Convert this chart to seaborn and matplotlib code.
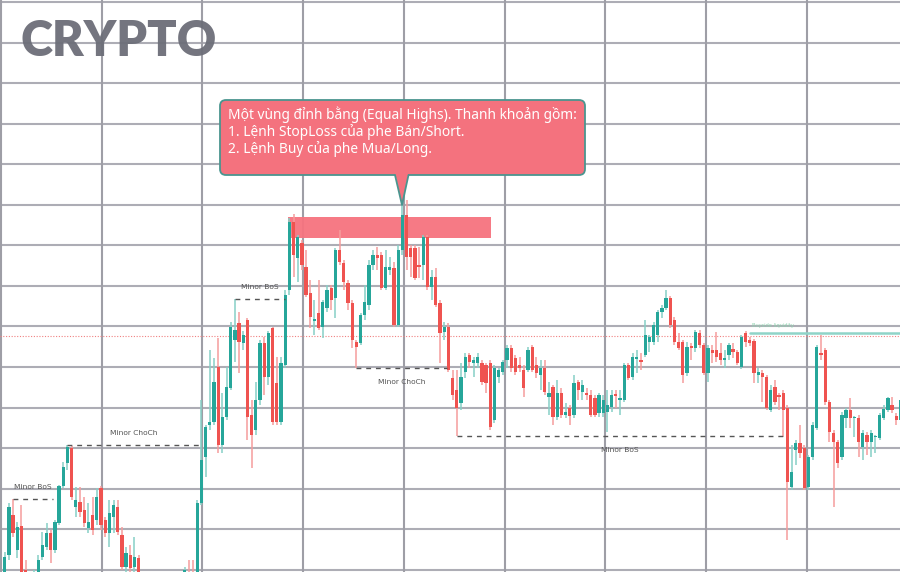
import numpy as np
import pandas as pd
import matplotlib
matplotlib.use("Agg")
import matplotlib.pyplot as plt
import seaborn as sns
from matplotlib.patches import FancyBboxPatch, Polygon, Rectangle

# ---------------- data (price units) ----------------
open_ = [-3, 17, 57, 22, 46, 2, -8, -18, -6, 15,
         25, 39, 22, 49, 86, 109, 124, 65, 70, 62,
         44, 57, 52, 84, 52, 39, 55, 65, 37, 5,
         17, 5, 14, -6, -18, -28, -23, -38, -33, -43,
         -28, -23, -18, -8, 0, -3, -8, 69, 115, 147,
         150, 205, 127, 155, 184, 232, 249, 229, 252, 157,
         142, 172, 229, 195, 244, 189, 150, 207, 282, 350,
         314, 329, 305, 279, 251, 259, 245, 264, 284, 274,
         322, 309, 289, 269, 230, 229, 257, 267, 307, 317,
         317, 284, 302, 304, 247, 322, 357, 324, 324, 307,
         307, 335, 285, 295, 269, 240, 245, 194, 182, 169,
         200, 217, 209, 209, 209, 207, 209, 152, 195, 200,
         212, 224, 214, 207, 202, 202, 225, 207, 197, 204,
         175, 185, 155, 179, 157, 164, 157, 190, 180, 179,
         177, 174, 159, 159, 160, 165, 178, 172, 172, 207,
         195, 213, 212, 217, 230, 230, 237, 260, 264, 274,
         252, 230, 230, 199, 226, 224, 239, 227, 199, 222,
         222, 219, 212, 217, 223, 220, 205, 239, 232, 231,
         197, 199, 195, 162, 185, 177, 179, 164, 85, 122,
         129, 124, 85, 115, 144, 219, 222, 170, 139, 130,
         115, 154, 162, 154, 154, 125, 137, 130, 135, 134,
         154, 162, 167, 156, 152]
high_ = [20, 69, 73, 50, 67, 12, -3, 2, 17, 40,
         49, 42, 52, 87, 110, 127, 126, 85, 85, 75,
         69, 75, 84, 86, 55, 72, 72, 72, 45, 25,
         27, 35, 17, -2, -13, -18, -20, -28, -28, -24,
         -13, -13, -6, 5, 12, 12, 72, 172, 147, 222,
         214, 234, 179, 205, 250, 273, 260, 241, 254, 172,
         190, 232, 235, 241, 245, 215, 215, 282, 354, 358,
         337, 332, 322, 292, 272, 292, 272, 287, 287, 324,
         342, 312, 292, 272, 232, 259, 287, 312, 322, 325,
         320, 322, 315, 310, 327, 374, 372, 327, 327, 325,
         337, 337, 302, 304, 272, 250, 249, 202, 202, 209,
         219, 219, 215, 219, 212, 209, 212, 207, 204, 212,
         227, 227, 217, 215, 207, 225, 227, 215, 212, 212,
         190, 187, 192, 184, 169, 167, 197, 192, 192, 184,
         182, 177, 179, 177, 182, 182, 182, 182, 209, 209,
         219, 222, 219, 252, 237, 250, 262, 267, 282, 276,
         255, 239, 232, 230, 229, 242, 242, 229, 227, 227,
         240, 229, 222, 229, 229, 222, 237, 241, 235, 233,
         204, 202, 197, 187, 192, 179, 182, 167, 127, 132,
         147, 127, 117, 150, 227, 237, 224, 172, 142, 132,
         160, 164, 174, 156, 157, 142, 140, 142, 137, 159,
         167, 175, 175, 159, 177]
low_ = [-8, 12, 35, 14, -8, -18, -28, -23, -10, 12,
        22, 9, 19, 47, 84, 102, 72, 55, 55, 45,
        39, 37, 47, 42, 35, 25, 39, 37, 2, 0,
        0, 0, -13, -23, -34, -38, -43, -48, -50, -48,
        -33, -28, -26, -13, -13, -18, -13, 67, 95, 142,
        147, 119, 119, 152, 182, 210, 199, 222, 132, 104,
        137, 167, 177, 187, 147, 147, 147, 204, 277, 295,
        290, 302, 275, 244, 237, 242, 234, 260, 262, 254,
        307, 282, 262, 224, 204, 227, 252, 262, 302, 302,
        282, 282, 297, 245, 245, 317, 302, 295, 292, 294,
        292, 282, 272, 265, 209, 232, 200, 172, 136, 162,
        194, 204, 195, 204, 187, 179, 142, 149, 189, 197,
        204, 200, 197, 200, 175, 200, 200, 194, 182, 177,
        157, 147, 152, 154, 154, 147, 154, 172, 172, 172,
        155, 155, 155, 155, 140, 160, 164, 157, 170, 192,
        192, 199, 202, 215, 220, 227, 230, 254, 262, 244,
        227, 222, 189, 196, 212, 220, 224, 197, 190, 209,
        210, 207, 204, 212, 214, 207, 203, 225, 226, 189,
        189, 170, 162, 160, 167, 162, 135, 32, 82, 107,
        114, 82, 82, 112, 142, 212, 167, 130, 65, 104,
        112, 144, 144, 135, 115, 112, 117, 115, 119, 132,
        152, 160, 159, 147, 147]
close_ = [15, 65, 39, 45, -3, -13, -18, -3, 12, 27,
          39, 22, 50, 86, 105, 125, 75, 72, 60, 49,
          50, 42, 75, 47, 39, 59, 67, 40, 5, 19,
          4, 15, -6, -18, -28, -23, -38, -33, -43, -28,
          -23, -18, -13, 2, -8, -13, 69, 112, 145, 150,
          190, 127, 155, 185, 245, 242, 230, 237, 155, 137,
          172, 229, 195, 239, 150, 150, 209, 277, 350, 317,
          335, 307, 277, 255, 253, 244, 270, 282, 272, 322,
          310, 290, 269, 232, 225, 257, 270, 307, 317, 314,
          284, 305, 305, 247, 322, 357, 315, 315, 294, 305,
          335, 285, 295, 267, 239, 245, 202, 177, 164, 195,
          215, 210, 212, 215, 190, 189, 145, 204, 202, 210,
          224, 204, 200, 204, 184, 222, 202, 199, 204, 180,
          179, 155, 179, 157, 160, 156, 189, 182, 187, 177,
          157, 157, 177, 172, 167, 177, 176, 174, 207, 194,
          215, 215, 210, 237, 235, 247, 260, 264, 274, 247,
          230, 224, 197, 225, 224, 240, 227, 199, 224, 219,
          215, 212, 214, 227, 220, 209, 235, 230, 229, 199,
          200, 195, 164, 182, 170, 175, 162, 90, 100, 129,
          119, 84, 115, 147, 225, 217, 170, 140, 130, 109,
          157, 162, 154, 155, 130, 139, 130, 139, 136, 157,
          163, 174, 162, 152, 172]

# market-structure marks: label, start bar, end bar, price level, label side
struct_labels = ["Minor BoS", "Minor ChoCh", "Minor BoS", "Minor ChoCh", "Minor BoS"]
struct_start = [2, 15, 55, 84, 108]
struct_end = [11.5, 46.7, 67, 105.7, 186]
struct_level = [73, 127, 273, 204, 136]
struct_side = ["above", "above", "above", "below", "below"]

liquidity_label = "Buyside liquidity"
liquidity_start = 178.0
liquidity_level = 239
last_price = 236

zone_start, zone_end = 67.7, 116.2
zone_low, zone_high = 334, 355

callout_text = ("Một vùng đỉnh bằng (Equal Highs). Thanh khoản gồm:\n"
                "1. Lệnh StopLoss của phe Bán/Short.\n"
                "2. Lệnh Buy của phe Mua/Long.")
watermark = "CRYPTO"

# ---------------- styling ----------------
UP, DOWN = "#26a69a", "#ef5350"
UP_WICK, DOWN_WICK = "#86d0c6", "#f59c9c"
ZONE = "#f6737f"

sns.set_theme(style="white")
plt.rcParams["font.family"] = ["DejaVu Sans"]

df = pd.DataFrame({"open": open_, "high": high_, "low": low_, "close": close_})
df["bar"] = np.arange(len(df))
df["up"] = df["close"] >= df["open"]

W, H = 900, 572
fig = plt.figure(figsize=(W / 100, H / 100), dpi=100)
fig.patch.set_facecolor("white")

# grid + watermark layer (pixel space)
gax = fig.add_axes([0, 0, 1, 1], zorder=0)
gax.set_xlim(0, W)
gax.set_ylim(H, 0)
gax.axis("off")
for k in range(15):
    gax.axhline(2 + 40.55 * k, color="#adadb5", lw=1.5)
for k in range(9):
    gax.axvline(0.8 + 100.75 * k, color="#9e9ea6", lw=1.5)
gax.add_patch(Rectangle((218, 38), 72, 9, color="white", alpha=0.75, lw=0))
gax.text(21, 41, watermark, fontsize=35, fontweight="heavy", family=["Lato", "DejaVu Sans"],
         color="#6c6e78", alpha=0.95, ha="left", va="center")

# price layer
ax = fig.add_axes([0, 0, 1, 1], zorder=1)
ax.patch.set_alpha(0)
ax.set_xlim(-4.7 / 4.186, (W - 4.7) / 4.186)
ax.set_ylim(0, H)
ax.axis("off")

ax.add_patch(Rectangle((zone_start, zone_low), zone_end - zone_start, zone_high - zone_low,
                       color=ZONE, alpha=0.95, lw=0, zorder=1))

ax.axhline(last_price, color="#f08080", lw=0.8, ls=(0, (1, 1.5)), zorder=1.5)

wick_colors = [UP_WICK if u else DOWN_WICK for u in df["up"]]
body_colors = [UP if u else DOWN for u in df["up"]]
ax.vlines(df["bar"], df["low"], df["high"], colors=wick_colors, lw=1.1, zorder=2)
body_h = (df["close"] - df["open"]).abs().clip(lower=1.5)
ax.bar(df["bar"], body_h, bottom=np.minimum(df["open"], df["close"]), width=0.78,
       color=body_colors, linewidth=0, zorder=3)

for lab, s, e, lvl, side in zip(struct_labels, struct_start, struct_end, struct_level, struct_side):
    ax.plot([s, e], [lvl, lvl], color="#555555", lw=1.0, ls=(0, (3.5, 3.5)), zorder=4)
    off = 12 if side == "above" else -14
    ax.text((s + e) / 2, lvl + off, lab, fontsize=5.4, color="#555555",
            ha="center", va="center", zorder=4)

ax.plot([liquidity_start, df["bar"].iloc[-1] + 2], [liquidity_level, liquidity_level],
        color="#8fd4c8", lw=1.8, zorder=4)
ax.text(liquidity_start + 0.6, liquidity_level + 8, liquidity_label, fontsize=3.6,
        color="#8fd4b0", ha="left", va="center", zorder=4)

# callout layer (pixel space)
cax = fig.add_axes([0, 0, 1, 1], zorder=2)
cax.patch.set_alpha(0)
cax.set_xlim(0, W)
cax.set_ylim(H, 0)
cax.axis("off")
box_fill, box_edge = "#f4727e", "#4a958f"
cax.add_patch(FancyBboxPatch((220, 100), 365, 75, boxstyle="round,pad=0,rounding_size=6",
                             fc=box_fill, ec=box_edge, lw=1.3))
cax.add_patch(Polygon([(395, 173), (408.5, 173), (402, 205)], closed=True, fc=box_fill, ec="none"))
cax.plot([395, 402, 408.5], [175, 205, 175], color=box_edge, lw=1.3)
cax.text(228, 106.5, callout_text, fontsize=9.9, color="white", ha="left", va="top",
         family=["Noto Sans", "DejaVu Sans"], linespacing=1.08)

fig.savefig("out.png", dpi=100)
